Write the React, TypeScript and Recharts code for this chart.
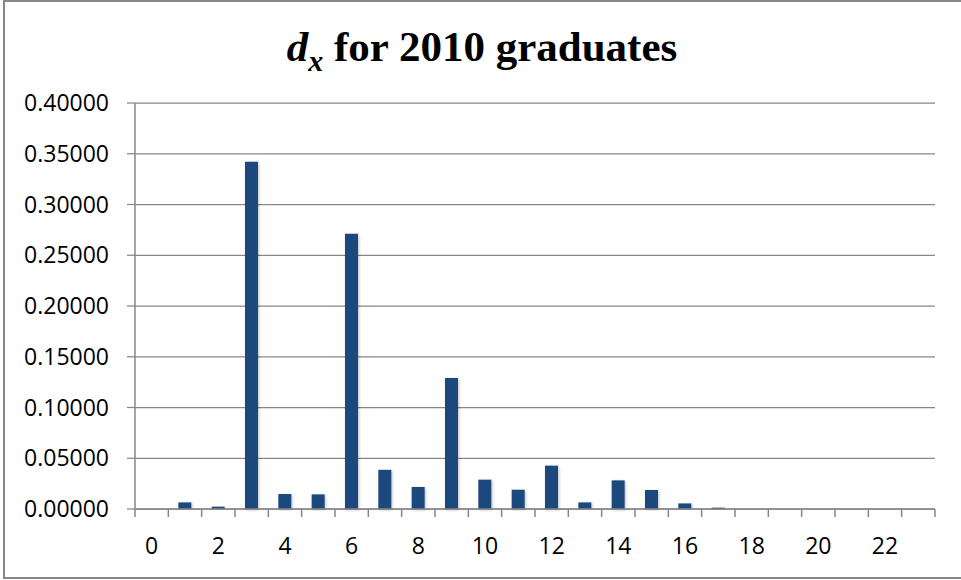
import React from "react";
import { Bar, BarChart, CartesianGrid, XAxis, YAxis } from "recharts";

const categories = [
  "0", "1", "2", "3", "4", "5", "6", "7", "8", "9", "10", "11",
  "12", "13", "14", "15", "16", "17", "18", "19", "20", "21", "22", "23",
];

const dxValues = [
  0, 0.0065, 0.0023, 0.342, 0.0148, 0.0144, 0.2712, 0.0386, 0.0217, 0.129, 0.0289, 0.019,
  0.0427, 0.0065, 0.0282, 0.0187, 0.0055, 0.0013, 0, 0, 0, 0, 0, 0,
];

const yTicks = [0, 0.05, 0.1, 0.15, 0.2, 0.25, 0.3, 0.35, 0.4];

const data = categories.map((name, i) => ({ name, dx: dxValues[i] }));

const W = 961;
const H = 580;
const MARGIN = { top: 103, right: 26, left: 0, bottom: 21 };
const Y_AXIS_W = 135;
const PLOT_W = W - MARGIN.left - MARGIN.right - Y_AXIS_W;
const GRAY = "#878787";
const BAR = "#1F497D";
const TICK_SIZE = 8;
const X_TICK_MARGIN = 21;
const FONT = "'Open Sans', sans-serif";

// ticks sit on the category boundaries, labels only on even categories
const XTick = (props: any) => {
  const { x, y, payload, index } = props;
  const band = PLOT_W / categories.length;
  const axisY = y - TICK_SIZE - X_TICK_MARGIN;
  const left = x - band / 2;
  const isLast = index === categories.length - 1;
  const showLabel = Number(payload.value) % 2 === 0;
  return (
    <g>
      <line x1={left} x2={left} y1={axisY} y2={axisY + TICK_SIZE} stroke={GRAY} strokeWidth={1.5} />
      {isLast && (
        <line x1={x + band / 2} x2={x + band / 2} y1={axisY} y2={axisY + TICK_SIZE} stroke={GRAY} strokeWidth={1.5} />
      )}
      {showLabel && (
        <text x={x} y={y} dy="0.71em" textAnchor="middle" fill="#000" fontSize={23} fontFamily={FONT}>
          {payload.value}
        </text>
      )}
    </g>
  );
};

export default function App() {
  return (
    <div
      style={{
        position: "absolute",
        left: 0,
        top: 0,
        width: W,
        height: H,
        overflow: "hidden",
        background: "#fff",
      }}
    >
      <div
        style={{
          position: "absolute",
          left: 3,
          top: 0,
          width: 1000,
          height: 575,
          border: `2px solid ${GRAY}`,
        }}
      />
      <svg width={W} height={80} style={{ position: "absolute", left: 0, top: 0 }}>
        <text
          x={482}
          y={61}
          textAnchor="middle"
          fontFamily="'Liberation Serif', 'Times New Roman', serif"
          fontWeight="bold"
          fontSize={43}
          fill="#000"
        >
          <tspan fontStyle="italic">d</tspan>
          <tspan fontStyle="italic" fontSize={30} dy={10}>x</tspan>
          <tspan dy={-10}> for 2010 graduates</tspan>
        </text>
      </svg>
      <div style={{ position: "absolute", left: 0, top: 0 }}>
        <BarChart width={W} height={H} data={data} margin={MARGIN} barCategoryGap="30%">
          <defs>
            <filter id="barShadow" x="-30%" y="-5%" width="160%" height="115%">
              <feDropShadow dx="1" dy="1" stdDeviation="1.5" floodColor="#000" floodOpacity="0.25" />
            </filter>
          </defs>
          <CartesianGrid vertical={false} stroke={GRAY} strokeWidth={1.25} />
          <XAxis
            dataKey="name"
            interval={0}
            height={50}
            tickLine={false}
            tickSize={TICK_SIZE}
            tickMargin={X_TICK_MARGIN}
            axisLine={{ stroke: GRAY, strokeWidth: 1.5 }}
            tick={<XTick />}
          />
          <YAxis
            width={Y_AXIS_W}
            domain={[0, 0.4]}
            ticks={yTicks}
            interval={0}
            tickSize={TICK_SIZE}
            tickMargin={18}
            tickLine={{ stroke: GRAY, strokeWidth: 1.25 }}
            axisLine={{ stroke: GRAY, strokeWidth: 1.5 }}
            tick={{ fill: "#000", fontSize: 23, fontFamily: FONT }}
            tickFormatter={(v: number) => v.toFixed(5)}
          />
          <Bar dataKey="dx" fill={BAR} filter="url(#barShadow)" isAnimationActive={false} />
        </BarChart>
      </div>
    </div>
  );
}
